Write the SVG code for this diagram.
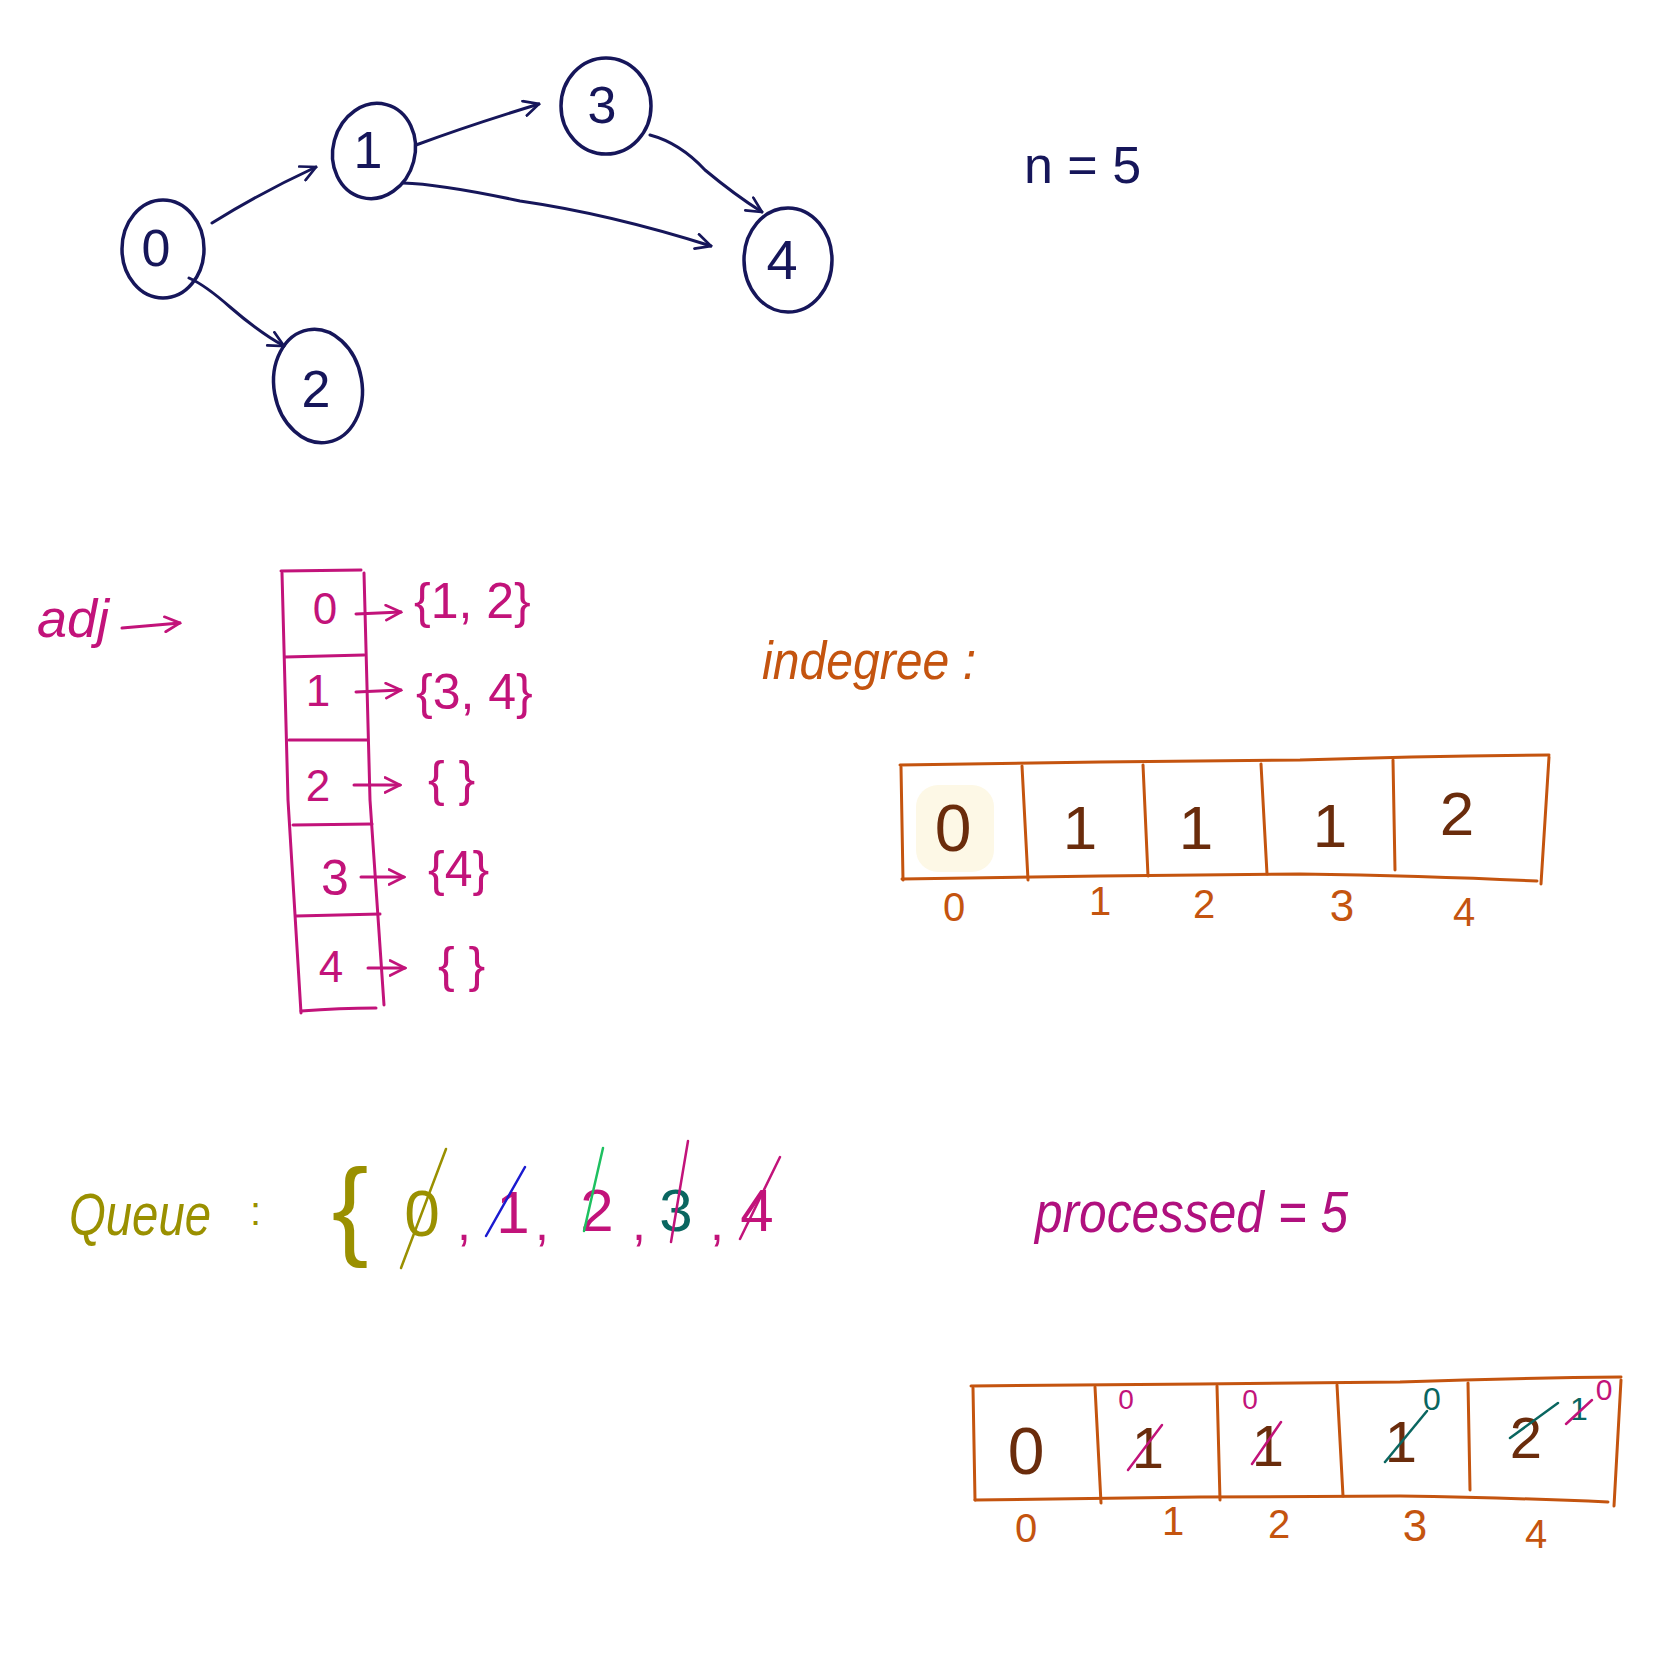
<svg xmlns="http://www.w3.org/2000/svg" width="1664" height="1657" viewBox="0 0 1664 1657">
<style>
text{font-family:"Liberation Sans","DejaVu Sans",sans-serif}
.navy{fill:#16165a}
.node{fill:none;stroke:#16165a;stroke-width:3.5}
.edge{fill:none;stroke:#16165a;stroke-width:3;stroke-linecap:round}
.mag{fill:#c2137a}
.magl{fill:none;stroke:#c2137a;stroke-width:3;stroke-linecap:round}
.org{fill:#c4540f}
.orgl{fill:none;stroke:#c4540f;stroke-width:3;stroke-linecap:round}
.brown{fill:#6a2c0c}
.olive{fill:#9a9000}
.strike{fill:none;stroke-width:2.5;stroke-linecap:round}
.purple{fill:#b0107e}
</style>
<defs>
<marker id="ah-navy" viewBox="0 0 12 12" refX="11" refY="6" markerWidth="18" markerHeight="18" markerUnits="userSpaceOnUse" orient="auto"><path d="M1,1 L11,6 L1,11" fill="none" stroke="#16165a" stroke-width="1.8" stroke-linecap="round"/></marker>
<marker id="ah-mag" viewBox="0 0 12 12" refX="11" refY="6" markerWidth="18" markerHeight="18" markerUnits="userSpaceOnUse" orient="auto"><path d="M1,1 L11,6 L1,11" fill="none" stroke="#c2137a" stroke-width="1.8" stroke-linecap="round"/></marker>
</defs>

<!-- graph nodes -->
<g id="node-0"><ellipse class="node" cx="163" cy="249" rx="41" ry="49"/><text class="navy" x="156" y="266" font-size="52" text-anchor="middle">0</text></g>
<g id="node-1"><ellipse class="node" cx="374" cy="151" rx="41" ry="48" transform="rotate(15 374 151)"/><text class="navy" x="368" y="168" font-size="52" text-anchor="middle">1</text></g>
<g id="node-3"><ellipse class="node" cx="606" cy="106" rx="45" ry="48"/><text class="navy" x="602" y="123" font-size="52" text-anchor="middle">3</text></g>
<g id="node-4"><ellipse class="node" cx="788" cy="260" rx="44" ry="52"/><text class="navy" x="782" y="279" font-size="56" text-anchor="middle">4</text></g>
<g id="node-2"><ellipse class="node" cx="318" cy="386" rx="44" ry="57" transform="rotate(-10 318 386)"/><text class="navy" x="316" y="407" font-size="52" text-anchor="middle">2</text></g>

<!-- graph connectors -->
<g id="edges">
<path class="edge" d="M212,223 Q260,193 316,167" marker-end="url(#ah-navy)"/>
<path class="edge" d="M416,145 Q470,125 539,104" marker-end="url(#ah-navy)"/>
<path class="edge" d="M403,183 Q440,184 520,201 Q610,214 711,246" marker-end="url(#ah-navy)"/>
<path class="edge" d="M650,135 Q680,143 705,170 Q735,195 762,212" marker-end="url(#ah-navy)"/>
<path class="edge" d="M189,278 Q205,285 230,307 Q260,333 284,346" marker-end="url(#ah-navy)"/>
</g>

<g id="n-label"><text class="navy" x="1024" y="183" font-size="52">n = 5</text></g>

<!-- adjacency list -->
<g id="adj-label"><text class="mag" x="37" y="637" font-size="54" font-style="italic">adj</text>
<path class="magl" d="M122,628 L180,623" marker-end="url(#ah-mag)"/></g>
<g id="adj-table">
<path class="magl" d="M282,573 L288,800 L301,1013"/>
<path class="magl" d="M364,573 L370,800 L384,1005"/>
<path class="magl" d="M281,571 L361,570"/>
<path class="magl" d="M285,657 L364,655"/>
<path class="magl" d="M289,740 L367,740"/>
<path class="magl" d="M293,825 L372,824"/>
<path class="magl" d="M296,916 L380,914"/>
<path class="magl" d="M301,1011 Q340,1008 376,1008"/>
<text class="mag" x="325" y="624" font-size="44" text-anchor="middle">0</text>
<text class="mag" x="318" y="706" font-size="44" text-anchor="middle">1</text>
<text class="mag" x="318" y="801" font-size="44" text-anchor="middle">2</text>
<text class="mag" x="335" y="895" font-size="50" text-anchor="middle">3</text>
<text class="mag" x="331" y="982" font-size="44" text-anchor="middle">4</text>
</g>
<g id="adj-lists">
<path class="magl" d="M356,614 L401,612" marker-end="url(#ah-mag)"/>
<path class="magl" d="M356,692 L401,690" marker-end="url(#ah-mag)"/>
<path class="magl" d="M354,785 L400,785" marker-end="url(#ah-mag)"/>
<path class="magl" d="M361,877 L404,877" marker-end="url(#ah-mag)"/>
<path class="magl" d="M368,968 L405,968" marker-end="url(#ah-mag)"/>
<text class="mag" x="414" y="618" font-size="50">{1, 2}</text>
<text class="mag" x="416" y="709" font-size="50">{3, 4}</text>
<text class="mag" x="428" y="796" font-size="50">{   }</text>
<text class="mag" x="428" y="886" font-size="50">{4}</text>
<text class="mag" x="438" y="982" font-size="50">{ }</text>
</g>

<!-- indegree -->
<g id="indegree-label"><text class="org" x="762" y="679" font-size="54" font-style="italic" textLength="214" lengthAdjust="spacingAndGlyphs">indegree :</text></g>
<g id="indegree-table">
<rect x="916" y="785" width="78" height="87" rx="22" fill="#fdf8e6"/>
<path class="orgl" d="M900,765 L1100,762 L1300,760 Q1420,756 1549,755"/>
<path class="orgl" d="M902,879 L1100,876 L1300,874 Q1430,876 1537,881"/>
<path class="orgl" d="M901,767 L903,880"/>
<path class="orgl" d="M1022,766 L1028,880"/>
<path class="orgl" d="M1143,765 L1148,876"/>
<path class="orgl" d="M1261,764 L1267,874"/>
<path class="orgl" d="M1393,760 L1395,870"/>
<path class="orgl" d="M1549,757 L1541,884"/>
<text class="brown" x="953" y="851" font-size="66" text-anchor="middle">0</text>
<text class="brown" x="1080" y="849" font-size="62" text-anchor="middle">1</text>
<text class="brown" x="1196" y="849" font-size="62" text-anchor="middle">1</text>
<text class="brown" x="1330" y="847" font-size="62" text-anchor="middle">1</text>
<text class="brown" x="1457" y="835" font-size="62" text-anchor="middle">2</text>
<text class="org" x="954" y="921" font-size="40" text-anchor="middle">0</text>
<text class="org" x="1100" y="915" font-size="40" text-anchor="middle">1</text>
<text class="org" x="1204" y="918" font-size="40" text-anchor="middle">2</text>
<text class="org" x="1342" y="921" font-size="44" text-anchor="middle">3</text>
<text class="org" x="1464" y="926" font-size="40" text-anchor="middle">4</text>
</g>

<!-- queue -->
<g id="queue">
<text class="olive" x="69" y="1235" font-size="60" font-style="italic" textLength="142" lengthAdjust="spacingAndGlyphs">Queue</text>
<text class="olive" x="250" y="1225" font-size="40">:</text>
<text class="olive" x="350" y="1245" font-size="110" text-anchor="middle">{</text>
<text class="olive" x="422" y="1236" font-size="64" text-anchor="middle">0</text>
<path class="strike" stroke="#9a9000" d="M401,1268 L446,1149"/>
<text class="mag" x="464" y="1240" font-size="50" text-anchor="middle">,</text>
<text class="mag" x="513" y="1233" font-size="60" text-anchor="middle">1</text>
<path class="strike" stroke="#1a1ad0" d="M486,1236 L525,1167"/>
<text class="mag" x="542" y="1240" font-size="50" text-anchor="middle">,</text>
<text class="mag" x="597" y="1231" font-size="60" text-anchor="middle">2</text>
<path class="strike" stroke="#1ec060" d="M584,1231 L603,1148"/>
<text class="mag" x="639" y="1240" font-size="50" text-anchor="middle">,</text>
<text fill="#0a6660" x="676" y="1231" font-size="60" text-anchor="middle">3</text>
<path class="strike" stroke="#c2137a" d="M671,1242 L688,1141"/>
<text class="mag" x="717" y="1240" font-size="50" text-anchor="middle">,</text>
<text class="mag" x="757" y="1231" font-size="60" text-anchor="middle">4</text>
<path class="strike" stroke="#c2137a" d="M740,1239 L780,1157"/>
</g>

<!-- processed -->
<g id="processed"><text class="purple" x="1035" y="1232" font-size="58" font-style="italic" textLength="313" lengthAdjust="spacingAndGlyphs">processed = 5</text></g>

<!-- final indegree table -->
<g id="final-table">
<path class="orgl" d="M971,1386 L1200,1384 L1400,1382 Q1520,1378 1621,1377"/>
<path class="orgl" d="M975,1500 L1200,1497 L1400,1496 Q1520,1498 1608,1502"/>
<path class="orgl" d="M973,1388 L975,1500"/>
<path class="orgl" d="M1095,1387 L1101,1503"/>
<path class="orgl" d="M1217,1386 L1220,1500"/>
<path class="orgl" d="M1337,1385 L1343,1496"/>
<path class="orgl" d="M1468,1383 L1470,1490"/>
<path class="orgl" d="M1621,1380 L1614,1506"/>
<text class="brown" x="1026" y="1474" font-size="66" text-anchor="middle">0</text>
<text class="brown" x="1148" y="1468" font-size="58" text-anchor="middle">1</text>
<path class="strike" stroke="#c2137a" d="M1128,1470 L1162,1425"/>
<text class="mag" x="1126" y="1409" font-size="28" text-anchor="middle">0</text>
<text class="brown" x="1268" y="1466" font-size="58" text-anchor="middle">1</text>
<path class="strike" stroke="#c2137a" d="M1252,1464 L1281,1422"/>
<text class="mag" x="1250" y="1409" font-size="28" text-anchor="middle">0</text>
<text class="brown" x="1401" y="1462" font-size="58" text-anchor="middle">1</text>
<path class="strike" stroke="#0a6660" d="M1385,1462 L1427,1411"/>
<text fill="#0a6660" x="1432" y="1410" font-size="32" text-anchor="middle">0</text>
<text class="brown" x="1526" y="1458" font-size="58" text-anchor="middle">2</text>
<path class="strike" stroke="#0a6660" d="M1510,1438 L1558,1403"/>
<text fill="#0a6660" x="1579" y="1420" font-size="32" text-anchor="middle">1</text>
<path class="strike" stroke="#c2137a" d="M1566,1424 L1592,1400"/>
<text class="mag" x="1604" y="1400" font-size="30" text-anchor="middle">0</text>
<text class="org" x="1026" y="1542" font-size="40" text-anchor="middle">0</text>
<text class="org" x="1173" y="1535" font-size="40" text-anchor="middle">1</text>
<text class="org" x="1279" y="1538" font-size="40" text-anchor="middle">2</text>
<text class="org" x="1415" y="1541" font-size="44" text-anchor="middle">3</text>
<text class="org" x="1536" y="1548" font-size="40" text-anchor="middle">4</text>
</g>
</svg>
